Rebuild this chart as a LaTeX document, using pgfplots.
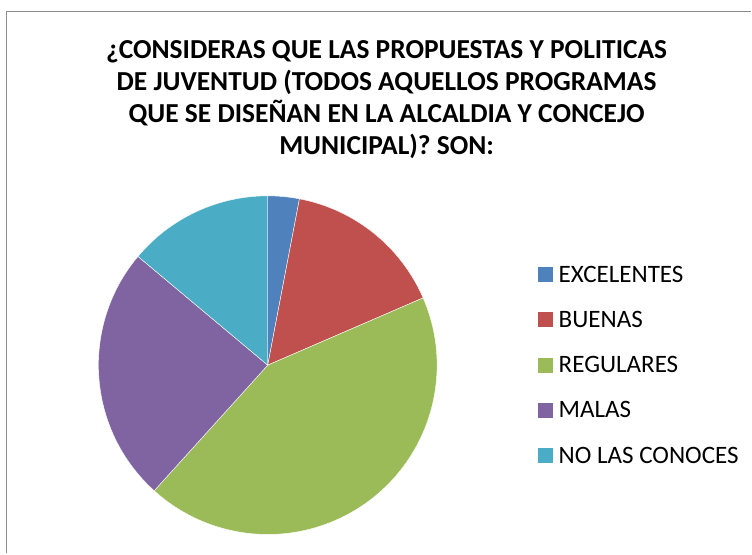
\documentclass[border=0pt]{standalone}
\usepackage{fontspec}
\setmainfont{Carlito}
\usepackage{pgfplots}
\usepackage{pgfplotstable}
\pgfplotsset{compat=1.18}
\definecolor{pieA}{HTML}{4F81BD}
\definecolor{pieB}{HTML}{C0504D}
\definecolor{pieC}{HTML}{9BBB59}
\definecolor{pieD}{HTML}{8064A2}
\definecolor{pieE}{HTML}{4BACC6}
\definecolor{frame}{HTML}{8C8C8C}

% share of each answer, in percent
\pgfplotstableread{
label value colour
EXCELENTES 3.0 pieA
BUENAS 15.5 pieB
REGULARES 43.2 pieC
MALAS 24.4 pieD
{NO LAS CONOCES} 13.9 pieE
}\piedata

\begin{document}
\begin{tikzpicture}
\begin{axis}[
    scale only axis,
    width=564pt, height=415.5pt,
    xmin=0, xmax=752, ymin=0, ymax=554,
    y dir=reverse,
    hide axis,
    clip=false,
]
\path (axis cs:0,0) rectangle (axis cs:752,554);
% chart frame
\draw[frame, line width=1.1pt] (axis cs:6.5,554) -- (axis cs:6.5,11.5) -- (axis cs:752,11.5);

% title
\tikzset{ttl/.style={anchor=base, inner sep=0pt, font=\fontsize{20.6}{24}\selectfont\bfseries}}
\node[ttl] at (axis cs:387,58.5) {¿CONSIDERAS QUE LAS PROPUESTAS Y POLITICAS};
\node[ttl] at (axis cs:387,90.5) {DE JUVENTUD (TODOS AQUELLOS PROGRAMAS};
\node[ttl] at (axis cs:387,122.5) {QUE SE DISEÑAN EN LA ALCALDIA Y CONCEJO};
\node[ttl] at (axis cs:387,155) {MUNICIPAL)? SON:};

% slices and legend entries
\def\R{127.1pt}
\def\cum{0}
\pgfplotsforeachungrouped \i in {0,...,4}{%
    \pgfplotstablegetelem{\i}{value}\of\piedata \let\v=\pgfplotsretval
    \pgfplotstablegetelem{\i}{colour}\of\piedata \let\col=\pgfplotsretval
    \pgfplotstablegetelem{\i}{label}\of\piedata \let\lab=\pgfplotsretval
    \pgfmathsetmacro\a{90-\cum*3.6}
    \pgfmathsetmacro\cum{\cum+\v}
    \global\let\cum=\cum
    \pgfmathsetmacro\b{90-\cum*3.6}
    \pgfmathsetmacro\yb{282.3+45.3*\i}
    \pgfmathsetmacro\yt{\yb-15}
    \edef\temp{%
        \noexpand\fill[\col, draw=white, line width=0.3pt] (axis cs:268,365.5) -- ++(\a:\R) arc[start angle=\a, end angle=\b, radius=\R] -- cycle;
        \noexpand\fill[\col] (axis cs:538.3,\yt) rectangle (axis cs:553.3,\yb);
        \noexpand\node[anchor=base west, inner sep=0pt, font=\noexpand\fontsize{18.8}{22}\noexpand\selectfont] at (axis cs:559,\yb) {\lab};
    }\temp
}
\end{axis}
\end{tikzpicture}
\end{document}
